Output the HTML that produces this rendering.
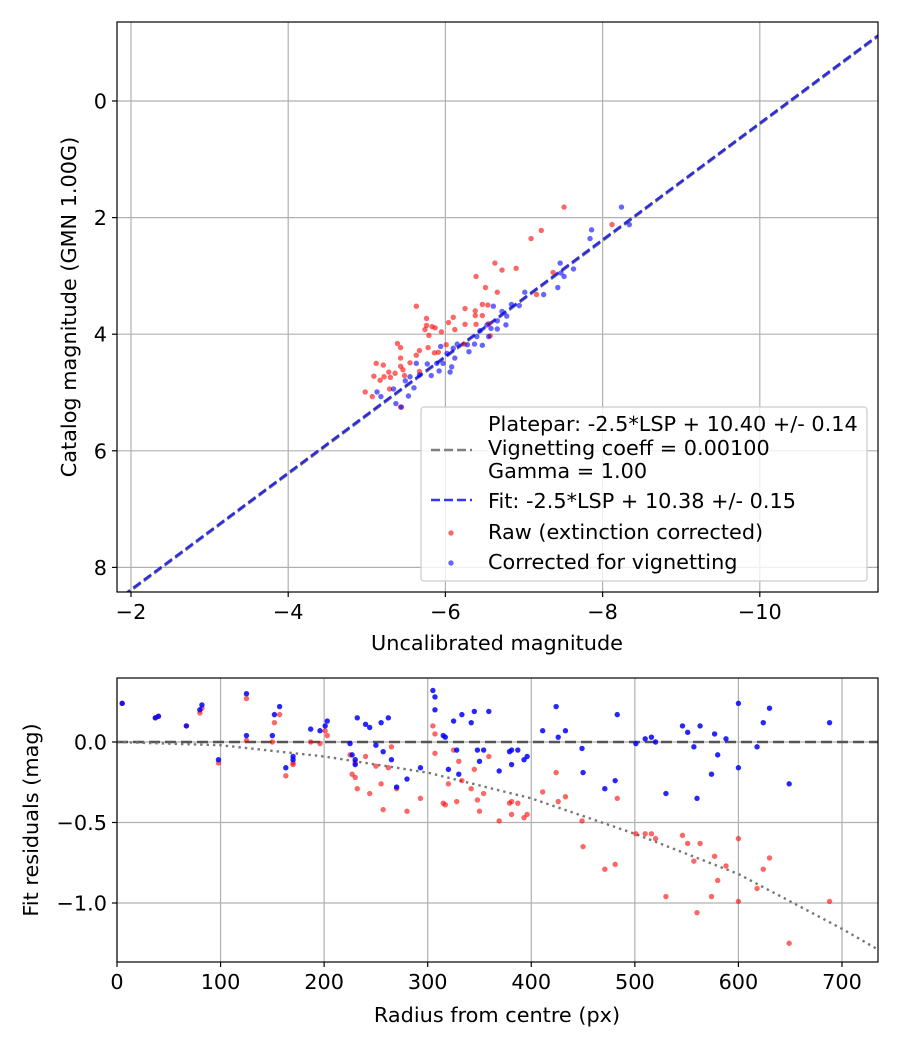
<!DOCTYPE html>
<html><head><meta charset="utf-8"><style>
html,body{margin:0;padding:0;background:#fff;}
svg{display:block;font-family:"DejaVu Sans","Liberation Sans",sans-serif;}
</style></head><body>
<svg id="chart" width="900" height="1050" viewBox="0 0 900 1050" xmlns="http://www.w3.org/2000/svg">
<rect width="900" height="1050" fill="#fff"/>
<g id="topPlot"></g>
<g id="botPlot"></g>
</svg>
<script>
// ---- top chart data ----
const rawU=[-7.51,-8.12,-7.22,-7.09,-6.63,-6.72,-6.90,-6.39,-6.51,-6.66,-7.16,-7.37,-5.63,-6.25,-6.38,-6.47,-6.54,-6.38,-6.47,-5.76,-6.10,-6.04,-5.76,-5.83,-5.74,-5.87,-6.12,-6.25,-5.95,-5.79,-5.39,-5.43,-5.67,-5.78,-5.63,-5.86,-5.91,-5.43,-5.43,-5.12,-5.21,-5.55,-5.46,-5.28,-5.36,-5.09,-5.17,-5.22,-5.30,-5.48,-5.67,-4.98,-5.07,-5.29,-5.43,-6.39,-6.55,-6.24,-6.57,-6.01];
const rawM=[1.82,2.12,2.22,2.36,2.78,2.90,2.87,3.01,3.20,3.28,3.32,2.94,3.52,3.56,3.60,3.49,3.50,3.68,3.68,3.73,3.71,3.80,3.85,3.87,3.92,3.89,3.92,3.83,3.96,4.02,4.16,4.23,4.28,4.23,4.36,4.32,4.31,4.41,4.55,4.50,4.53,4.49,4.61,4.65,4.67,4.72,4.79,4.73,4.74,4.71,4.64,4.99,5.07,4.94,5.25,3.83,3.82,4.17,4.03,4.18];
const corU=[-8.24,-8.34,-7.86,-7.84,-7.46,-7.63,-7.47,-7.51,-7.43,-7.25,-7.01,-6.61,-6.84,-6.94,-6.72,-6.78,-6.66,-6.77,-6.53,-6.58,-6.44,-6.40,-6.55,-6.66,-6.28,-6.15,-6.10,-5.94,-6.02,-6.30,-6.12,-6.08,-5.97,-5.89,-5.77,-5.82,-5.63,-5.67,-5.55,-5.49,-5.60,-5.53,-5.34,-5.13,-5.18,-5.37,-5.44,-6.06,-6.37,-6.47,-5.92];
const corM=[1.82,2.12,2.21,2.36,2.78,2.88,2.95,3.01,3.20,3.32,3.28,3.52,3.49,3.51,3.61,3.69,3.77,3.84,3.84,3.90,3.94,4.04,4.04,3.91,4.18,4.17,4.24,4.21,4.33,4.30,4.41,4.56,4.50,4.50,4.51,4.71,4.50,4.70,4.73,4.80,4.92,5.06,4.94,4.99,5.07,5.19,5.25,4.65,4.17,4.19,4.63];
const fitOffset=10.38, plateOffset=10.40;
const topXTicks=[-2,-4,-6,-8,-10], topYTicks=[0,2,4,6,8];
// ---- bottom chart data ----
const radius=[5,37,40,67,80,82,98,125,125,150,152,157,163,170,170,187,196,201,203,225,227,230,230,232,240,244,250,255,257,262,265,270,280,293,305,307,307,315,317,320,325,328,330,333,342,345,348,350,354,359,369,379,381,381,387,393,396,411,424,426,433,449,450,471,481,483,501,510,516,520,530,546,551,557,560,563,574,577,580,588,600,600,618,624,630,649,688];
const rawRes=[0.24,0.15,0.16,0.10,0.18,0.21,-0.13,0.27,0.01,0.00,0.12,0.17,-0.21,-0.13,-0.14,0.00,-0.01,0.07,0.04,-0.08,-0.20,-0.13,-0.22,-0.29,-0.09,-0.32,-0.15,-0.26,-0.42,-0.16,-0.03,-0.29,-0.43,-0.35,0.10,0.05,-0.07,-0.38,-0.39,-0.26,-0.05,-0.37,-0.12,-0.24,-0.29,-0.17,-0.36,-0.43,-0.32,-0.09,-0.49,-0.38,-0.37,-0.45,-0.38,-0.47,-0.45,-0.31,-0.19,-0.37,-0.34,-0.49,-0.65,-0.79,-0.76,-0.35,-0.57,-0.57,-0.57,-0.60,-0.96,-0.58,-0.63,-0.74,-1.06,-0.63,-0.96,-0.71,-0.86,-0.77,-0.60,-0.99,-0.91,-0.79,-0.72,-1.25,-0.99];
const corRes=[0.24,0.15,0.16,0.10,0.20,0.23,-0.11,0.30,0.04,0.04,0.17,0.22,-0.16,-0.09,-0.11,0.08,0.07,0.10,0.13,-0.01,-0.08,-0.11,-0.14,0.15,0.11,0.09,-0.02,0.12,-0.06,0.15,-0.11,-0.28,-0.23,-0.16,0.32,0.28,0.20,0.04,0.03,-0.17,0.13,-0.05,-0.20,0.17,0.12,0.19,-0.05,-0.12,-0.05,0.19,-0.18,-0.06,-0.05,-0.14,-0.05,-0.11,-0.09,0.07,0.22,0.03,0.07,-0.04,-0.19,-0.29,-0.24,0.17,-0.01,0.02,0.03,0.00,-0.32,0.10,0.06,-0.03,-0.35,0.10,-0.20,0.05,-0.08,0.02,0.24,-0.16,-0.03,0.12,0.21,-0.26,0.12];
const modelR=[0,100,200,300,400,500,600,700,735];
const modelV=[0,-0.02,-0.09,-0.19,-0.35,-0.57,-0.82,-1.16,-1.29];
const botXTicks=[0,100,200,300,400,500,600,700], botYTicks=[0.0,-0.5,-1.0];

const NS='http://www.w3.org/2000/svg';
const FS=20.8;
function mk(parent,tag,attrs){const e=document.createElementNS(NS,tag);for(const k in attrs)e.setAttribute(k,attrs[k]);parent.appendChild(e);return e;}

// ---- top axes ----
const T={l:117,r:878,t:22,b:592};
const tx=u=>131+(-2-u)*78.6;
const ty=m=>101+m*58.3;
const topG=document.getElementById('topPlot');
const defsClip=mk(document.getElementById('chart'),'defs',{});
const cp1=mk(defsClip,'clipPath',{id:'c1'});mk(cp1,'rect',{x:T.l,y:T.t,width:T.r-T.l,height:T.b-T.t});
const cp2=mk(defsClip,'clipPath',{id:'c2'});mk(cp2,'rect',{x:117,y:678,width:761,height:284});

topXTicks.forEach(v=>{const x=tx(v);
 let g=mk(topG,'line',{x1:x,x2:x,y1:T.t,y2:T.b,stroke:'#b0b0b0','stroke-width':1.2});
 
 
 mk(topG,'line',{x1:x,x2:x,y1:T.b,y2:T.b+5,stroke:'#000','stroke-width':1.2});
 let t=mk(topG,'text',{x:x,y:T.b+27,'font-size':FS,'text-anchor':'middle'});t.textContent=(v<0?'\u2212':'')+Math.abs(v);
 
 });
topYTicks.forEach(v=>{const y=ty(v);
 let g=mk(topG,'line',{x1:T.l,x2:T.r,y1:y,y2:y,stroke:'#b0b0b0','stroke-width':1.2});
 
 
 mk(topG,'line',{x1:T.l-5,x2:T.l,y1:y,y2:y,stroke:'#000','stroke-width':1.2});
 let t=mk(topG,'text',{x:T.l-10,y:y+7.5,'font-size':FS,'text-anchor':'end'});t.textContent=v;
 
 });

const gc=mk(topG,'g',{'clip-path':'url(#c1)'});
let pl=mk(gc,'line',{x1:tx(-1.5),y1:ty(-1.5+plateOffset),x2:tx(-12),y2:ty(-12+plateOffset),stroke:'#808080','stroke-width':2.4,'stroke-dasharray':'9,4'});


let fl=mk(gc,'line',{x1:tx(-1.5),y1:ty(-1.5+fitOffset),x2:tx(-12),y2:ty(-12+fitOffset),stroke:'#2020e0','stroke-width':2.6,'stroke-dasharray':'9,4',opacity:0.9});


rawU.forEach((u,i)=>{let c=mk(gc,'circle',{cx:tx(u),cy:ty(rawM[i]),r:2.7,fill:'#ff0000','fill-opacity':0.6});
 
 });
corU.forEach((u,i)=>{let c=mk(gc,'circle',{cx:tx(u),cy:ty(corM[i]),r:2.7,fill:'#0000ff','fill-opacity':0.6});
 
 });
mk(topG,'rect',{x:T.l,y:T.t,width:T.r-T.l,height:T.b-T.t,fill:'none',stroke:'#000','stroke-width':1.2});
let xl=mk(topG,'text',{x:497,y:650,'font-size':FS,'text-anchor':'middle'});xl.textContent='Uncalibrated magnitude';


let yl=mk(topG,'text',{x:0,y:0,'font-size':FS,'text-anchor':'middle',transform:'translate(76,307) rotate(-90)'});yl.textContent='Catalog magnitude (GMN 1.00G)';



// legend
const lg=mk(topG,'g',{});


mk(lg,'rect',{x:421,y:407,width:446,height:174,rx:3,fill:'#fff','fill-opacity':0.8,stroke:'#cccccc','stroke-width':1.2});
mk(lg,'line',{x1:431,x2:472,y1:450,y2:450,stroke:'#808080','stroke-width':2.4,'stroke-dasharray':'9,4'});
mk(lg,'line',{x1:431,x2:472,y1:500,y2:500,stroke:'#2020ff','stroke-width':2.4,'stroke-dasharray':'9,4',opacity:0.9});
mk(lg,'circle',{cx:451,cy:533,r:2.7,fill:'#ff0000','fill-opacity':0.6});
mk(lg,'circle',{cx:451,cy:563,r:2.7,fill:'#0000ff','fill-opacity':0.6});
[['Platepar: -2.5*LSP + 10.40 +/- 0.14',431],['Vignetting coeff = 0.00100',455],['Gamma = 1.00',478],['Fit: -2.5*LSP + 10.38 +/- 0.15',508],['Raw (extinction corrected)',539],['Corrected for vignetting',569]].forEach(a=>{
 let t=mk(lg,'text',{x:488,y:a[1],'font-size':FS});t.textContent=a[0];
 
 });

// ---- bottom axes ----
const B={l:117,r:878,t:678,b:962};
const bx=r=>117+r*1.0357;
const by=v=>742-v*161;
const botG=document.getElementById('botPlot');
botXTicks.forEach(v=>{const x=bx(v);
 let g=mk(botG,'line',{x1:x,x2:x,y1:B.t,y2:B.b,stroke:'#b0b0b0','stroke-width':1.2});
 
 
 mk(botG,'line',{x1:x,x2:x,y1:B.b,y2:B.b+5,stroke:'#000','stroke-width':1.2});
 let t=mk(botG,'text',{x:x,y:B.b+27,'font-size':FS,'text-anchor':'middle'});t.textContent=v;
 
 });
botYTicks.forEach(v=>{const y=by(v);
 let g=mk(botG,'line',{x1:B.l,x2:B.r,y1:y,y2:y,stroke:'#b0b0b0','stroke-width':1.2});
 
 
 mk(botG,'line',{x1:B.l-5,x2:B.l,y1:y,y2:y,stroke:'#000','stroke-width':1.2});
 let t=mk(botG,'text',{x:B.l-10,y:y+7.5,'font-size':FS,'text-anchor':'end'});t.textContent=(v<0?'\u2212':'')+Math.abs(v).toFixed(1);
 
 });
const gb=mk(botG,'g',{'clip-path':'url(#c2)'});
let zl=mk(gb,'line',{x1:B.l,x2:B.r,y1:by(0),y2:by(0),stroke:'#555','stroke-width':2.4,'stroke-dasharray':'11,5'});


let mp=mk(gb,'polyline',{points:modelR.map((r,i)=>bx(r)+','+by(modelV[i])).join(' '),fill:'none',stroke:'#777','stroke-width':2.4,'stroke-dasharray':'2.4,4'});


radius.forEach((r,i)=>{let c=mk(gb,'circle',{cx:bx(r),cy:by(rawRes[i]),r:2.7,fill:'#ff0000','fill-opacity':0.6});
 
 });
radius.forEach((r,i)=>{let c=mk(gb,'circle',{cx:bx(r),cy:by(corRes[i]),r:2.7,fill:'#0000ff','fill-opacity':0.85});
 
 });
mk(botG,'rect',{x:B.l,y:B.t,width:B.r-B.l,height:B.b-B.t,fill:'none',stroke:'#000','stroke-width':1.2});
let bxl=mk(botG,'text',{x:497,y:1022,'font-size':FS,'text-anchor':'middle'});bxl.textContent='Radius from centre (px)';


let byl=mk(botG,'text',{x:0,y:0,'font-size':FS,'text-anchor':'middle',transform:'translate(38,820) rotate(-90)'});byl.textContent='Fit residuals (mag)';


</script>
</body></html>
